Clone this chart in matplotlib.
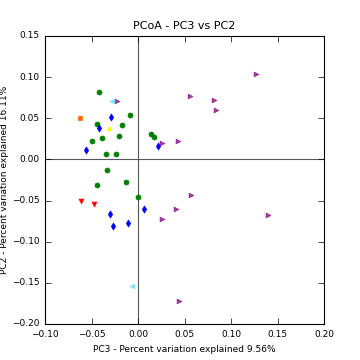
import matplotlib
matplotlib.use("Agg")
import matplotlib.pyplot as plt

plt.style.use("classic")

# PC3 / PC2 coordinates per group
green_x = [-0.0414, -0.0082, -0.0439, -0.0169, 0.0140, 0.0170, -0.0201, -0.0384,
           -0.0492, -0.0341, -0.0233, -0.0330, -0.0439, -0.0125, 0.0004]
green_y = [0.0821, 0.0544, 0.0430, 0.0422, 0.0312, 0.0276, 0.0288, 0.0260,
           0.0227, 0.0068, 0.0068, -0.0127, -0.0313, -0.0277, -0.0456]

blue_x = [-0.0287, -0.0414, -0.0557, 0.0210, -0.0298, -0.0266, -0.0104, 0.0069]
blue_y = [0.0520, 0.0380, 0.0110, 0.0162, -0.0663, -0.0810, -0.0773, -0.0602]

purple_x = [-0.0227, 0.0259, 0.0432, 0.1274, 0.0562, 0.0821, 0.0842,
            0.0572, 0.0410, 0.0259, 0.1393, 0.0443]
purple_y = [0.0711, 0.0202, 0.0227, 0.1040, 0.0776, 0.0727, 0.0601,
            -0.0432, -0.0602, -0.0728, -0.0676, -0.1724]

cyan_x = [-0.0276, -0.0065]
cyan_y = [0.0711, -0.1533]

red_x = [-0.0611, -0.0468]
red_y = [-0.0500, -0.0537]

orange_x = [-0.0619]
orange_y = [0.0507]

yellow_x = [-0.0309]
yellow_y = [0.0378]

fig = plt.figure(figsize=(3.6, 3.6), dpi=100, facecolor="white")
ax = fig.add_subplot(111)

ax.axhline(0, color="#555555", lw=0.8, zorder=1)
ax.axvline(0, color="#555555", lw=0.8, zorder=1)

ax.scatter(green_x, green_y, marker="o", s=13, color="green", edgecolors="green", lw=0.5, zorder=3)
ax.scatter(blue_x, blue_y, marker="d", s=13, color="blue", edgecolors="blue", lw=0.5, zorder=3)
ax.scatter(purple_x, purple_y, marker=">", s=12, color="purple", edgecolors="purple", lw=0.5, alpha=0.75, zorder=3)
ax.scatter(cyan_x, cyan_y, marker="<", s=12, color="#66e0f0", edgecolors="#66e0f0", lw=0.5, alpha=0.8, zorder=3)
ax.scatter(red_x, red_y, marker="v", s=12, color="red", edgecolors="red", lw=0.5, zorder=3)
ax.scatter(orange_x, orange_y, marker="s", s=11, color="#ff6600", edgecolors="#ff6600", lw=0.5, zorder=3)
ax.scatter(yellow_x, yellow_y, marker="^", s=12, color="yellow", edgecolors="yellow", lw=0.5, zorder=3)

ax.set_xlim(-0.10, 0.20)
ax.set_ylim(-0.20, 0.15)
ax.tick_params(labelsize=6.5, direction="in", length=4)
ax.set_title("PCoA - PC3 vs PC2", fontsize=8)
ax.set_xlabel("PC3 - Percent variation explained 9.56%", fontsize=6.5)
ax.set_ylabel("PC2 - Percent variation explained 16.11%", fontsize=6.5, labelpad=2)
for sp in ax.spines.values():
    sp.set_linewidth(0.8)

fig.savefig("out.png", dpi=100, facecolor="white")
